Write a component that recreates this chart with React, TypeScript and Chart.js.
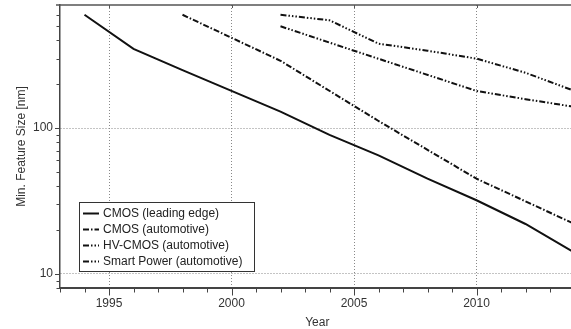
import React, { useEffect, useRef } from 'react';
import { Chart, registerables } from 'chart.js';

Chart.register(...registerables);

// ---- data ----
const seriesLabels = [
  'CMOS (leading edge)',
  'CMOS (automotive)',
  'HV-CMOS (automotive)',
  'Smart Power (automotive)',
];

const leadingYears = [1994, 1996, 1998, 2000, 2002, 2004, 2006, 2008, 2010, 2012, 2014];
const leadingValues = [600, 350, 250, 180, 130, 90, 65, 45, 32, 22, 14];

const cmosAutoYears = [1998, 2002, 2006, 2010, 2014];
const cmosAutoValues = [600, 290, 112, 45, 22];

const hvCmosYears = [2002, 2005, 2010, 2012, 2014];
const hvCmosValues = [500, 340, 180, 158, 140];

const smartPowerYears = [2002, 2004, 2006, 2008, 2010, 2012, 2014];
const smartPowerValues = [600, 550, 380, 340, 300, 240, 180];

const xTickValues = [1993, 1994, 1995, 1996, 1997, 1998, 1999, 2000, 2001, 2002, 2003, 2004, 2005, 2006, 2007, 2008, 2009, 2010, 2011, 2012, 2013, 2014];
const xLabelYears = [1995, 2000, 2005, 2010];
const yTickValues = [8, 9, 10, 20, 30, 40, 50, 60, 70, 80, 90, 100, 200, 300, 400, 500, 600];
const yLabelValues = [10, 100];

const xTitle = 'Year';
const yTitle = 'Min. Feature Size [nm]';

const W = 576;
const H = 329;
const FONT = '"Liberation Sans", Arial, Helvetica, sans-serif';

const toPoints = (xs: number[], ys: number[]) => xs.map((x, i) => ({ x, y: ys[i] }));

const decorPlugin = {
  id: 'decor',
  afterDraw(chart: any) {
    const ctx = chart.ctx as CanvasRenderingContext2D;
    const { left, right, top, bottom } = chart.chartArea;
    const xs = chart.scales.x;
    const ys = chart.scales.y;
    ctx.save();
    ctx.setLineDash([]);
    ctx.strokeStyle = '#444';
    ctx.lineWidth = 1;
    // y tick marks
    yTickValues.forEach((v) => {
      const y = Math.round(ys.getPixelForValue(v)) + 0.5;
      const len = yLabelValues.includes(v) ? 5 : 3.5;
      ctx.beginPath();
      ctx.moveTo(left - len, y);
      ctx.lineTo(left, y);
      ctx.stroke();
    });
    // x tick marks
    xTickValues.forEach((v) => {
      const x = Math.round(xs.getPixelForValue(v)) + 0.5;
      const len = xLabelYears.includes(v) ? 7.5 : 4.5;
      ctx.beginPath();
      ctx.moveTo(x, bottom);
      ctx.lineTo(x, bottom + len);
      ctx.stroke();
    });
    // top frame
    ctx.strokeStyle = '#555';
    ctx.lineWidth = 1.5;
    ctx.beginPath();
    ctx.moveTo(left - 4, top);
    ctx.lineTo(chart.width, top);
    ctx.stroke();
    ctx.lineWidth = 1;
    xLabelYears.forEach((v) => {
      const x = Math.round(xs.getPixelForValue(v)) + 0.5;
      ctx.beginPath();
      ctx.moveTo(x, top);
      ctx.lineTo(x, top + 3);
      ctx.stroke();
    });
    // axis titles
    ctx.fillStyle = '#333';
    ctx.font = `12px ${FONT}`;
    ctx.textAlign = 'center';
    ctx.textBaseline = 'middle';
    ctx.fillText(xTitle, (left + right) / 2, 323);
    ctx.save();
    ctx.translate(21.5, (top + bottom) / 2);
    ctx.rotate(-Math.PI / 2);
    ctx.fillText(yTitle, 0, 0);
    ctx.restore();
    // legend
    const lx = 79.5, ly = 202.5, lw = 175, lh = 69;
    ctx.fillStyle = '#fff';
    ctx.fillRect(lx, ly, lw, lh);
    ctx.strokeStyle = '#333';
    ctx.lineWidth = 1;
    ctx.strokeRect(lx, ly, lw, lh);
    chart.data.datasets.forEach((ds: any, i: number) => {
      const y = 213.5 + i * 16;
      ctx.strokeStyle = '#111';
      ctx.lineWidth = 2;
      ctx.setLineDash(ds.borderDash || []);
      ctx.beginPath();
      ctx.moveTo(83, y);
      ctx.lineTo(99, y);
      ctx.stroke();
      ctx.setLineDash([]);
      ctx.fillStyle = '#222';
      ctx.textAlign = 'left';
      ctx.textBaseline = 'middle';
      ctx.fillText(ds.label, 103, y);
    });
    ctx.restore();
  },
};

export default function App() {
  const ref = useRef<HTMLCanvasElement | null>(null);
  useEffect(() => {
    if (!ref.current) return;
    const lineBase = { borderColor: '#111', backgroundColor: '#111', borderWidth: 2, pointRadius: 0, tension: 0, fill: false };
    const chart = new Chart(ref.current, {
      type: 'line',
      data: {
        datasets: [
          { ...lineBase, label: seriesLabels[0], data: toPoints(leadingYears, leadingValues), borderDash: [] },
          { ...lineBase, label: seriesLabels[1], data: toPoints(cmosAutoYears, cmosAutoValues), borderDash: [6, 2, 1.5, 2] },
          { ...lineBase, label: seriesLabels[2], data: toPoints(hvCmosYears, hvCmosValues), borderDash: [6, 2, 1.5, 2, 1.5, 2] },
          { ...lineBase, label: seriesLabels[3], data: toPoints(smartPowerYears, smartPowerValues), borderDash: [6, 2, 1.5, 2, 1.5, 2, 1.5, 2] },
        ],
      } as any,
      options: {
        responsive: false,
        animation: false,
        devicePixelRatio: 1,
        layout: { padding: { left: 0, right: W - 574.5, top: 5, bottom: 0 } },
        plugins: { legend: { display: false }, tooltip: { enabled: false } },
        scales: {
          x: {
            type: 'linear',
            min: 1993,
            max: 2014,
            afterBuildTicks: (s: any) => { s.ticks = xTickValues.map((v) => ({ value: v })); },
            afterFit: (s: any) => { s.height = 41; s.paddingLeft = 0; s.paddingRight = 0; },
            ticks: {
              autoSkip: false,
              maxRotation: 0,
              minRotation: 0,
              padding: 8,
              color: '#333',
              font: { family: FONT, size: 12 },
              callback: (v: any) => (xLabelYears.includes(Number(v)) ? String(v) : ''),
            },
            grid: {
              drawTicks: false,
              color: '#888',
              lineWidth: (c: any) => (c.tick && xLabelYears.includes(c.tick.value) ? 1 : 0),
            },
            border: { display: true, color: '#444', width: 2, dash: [1, 2] },
          },
          y: {
            type: 'logarithmic',
            min: 8,
            max: 700,
            afterBuildTicks: (s: any) => { s.ticks = yTickValues.map((v) => ({ value: v })); },
            afterFit: (s: any) => { s.width = 60; s.paddingTop = 0; s.paddingBottom = 0; },
            ticks: {
              autoSkip: false,
              padding: 7,
              color: '#333',
              font: { family: FONT, size: 12 },
              callback: (v: any) => (yLabelValues.includes(Number(v)) ? String(v) : ''),
            },
            grid: {
              drawTicks: false,
              color: '#888',
              lineWidth: (c: any) => (c.tick && yLabelValues.includes(c.tick.value) ? 1 : 0),
            },
            border: { display: true, color: '#444', width: 1.5, dash: [1, 2] },
          },
        },
      } as any,
      plugins: [decorPlugin],
    });
    return () => chart.destroy();
  }, []);
  return (
    <div style={{ position: 'fixed', left: 0, top: 0, width: W, height: H, background: '#fff' }}>
      <canvas ref={ref} width={W} height={H} style={{ display: 'block', width: W, height: H }} />
    </div>
  );
}
